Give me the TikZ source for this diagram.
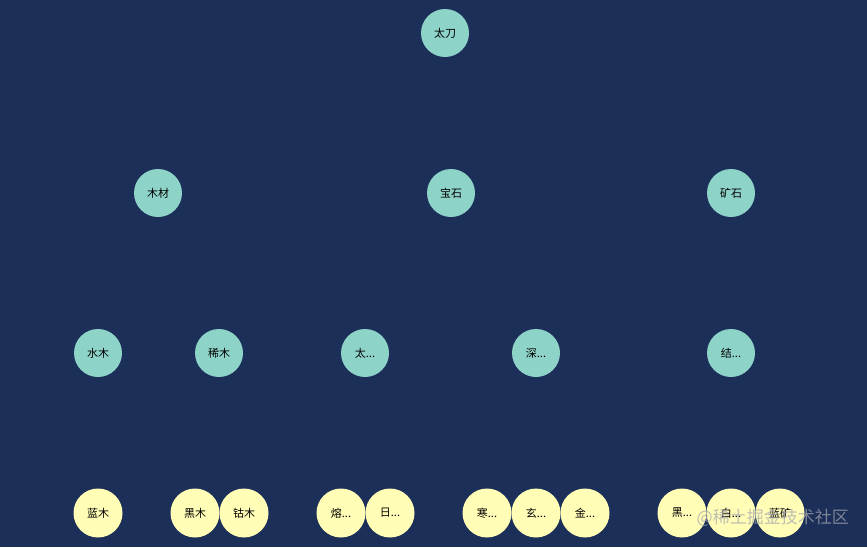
\documentclass[tikz,border=0pt]{standalone}
\usepackage{fontspec}
\setmainfont{Noto Sans CJK SC}
\definecolor{bg}{HTML}{1B2F58}
\definecolor{teal}{HTML}{8ED3C7}
\definecolor{yel}{HTML}{FFFDB6}
\definecolor{wmgray}{HTML}{A4A6AE}
\tikzset{
  tnode/.style={circle, fill=teal, minimum size=48pt, inner sep=0pt, font=\fontsize{11}{13}\selectfont, text=black},
  ynode/.style={circle, fill=yel, minimum size=49pt, inner sep=0pt, font=\fontsize{11}{13}\selectfont, text=black},
}
\begin{document}
\begin{tikzpicture}[x=1pt,y=-1pt]
\fill[bg] (0,0) rectangle (867,547);
\useasboundingbox (0,0) rectangle (867,547);
\node[tnode] (taidao) at (445,33) {太刀};
\node[tnode] (mucai) at (158,193) {木材};
\node[tnode] (baoshi) at (451,193) {宝石};
\node[tnode] (kuangshi) at (731,193) {矿石};
\node[tnode] (shuimu) at (98,353) {水木};
\node[tnode] (ximu) at (219,353) {稀木};
\node[tnode] (tai) at (365,353) {太...};
\node[tnode] (shen) at (536,353) {深...};
\node[tnode] (jie) at (731,353) {结...};
\node[ynode] (lanmu) at (98,513) {蓝木};
\node[ynode] (heimu) at (195,513) {黑木};
\node[ynode] (gumu) at (244,513) {钴木};
\node[ynode] (rong) at (341,513) {熔...};
\node[ynode] (ri) at (390,513) {日...};
\node[ynode] (han) at (487,513) {寒...};
\node[ynode] (xuan) at (536,513) {玄...};
\node[ynode] (jin) at (585,513) {金...};
\node[ynode] (hei) at (682,513) {黑...};
\node[ynode] (bai) at (731,513) {白...};
\node[ynode] (lankuang) at (780,513) {蓝矿};
\node[anchor=east, text=wmgray, text opacity=0.72, font=\fontsize{17}{19}\selectfont, inner sep=0pt] (wm) at (849,518) {@稀土掘金技术社区};
\end{tikzpicture}
\end{document}
